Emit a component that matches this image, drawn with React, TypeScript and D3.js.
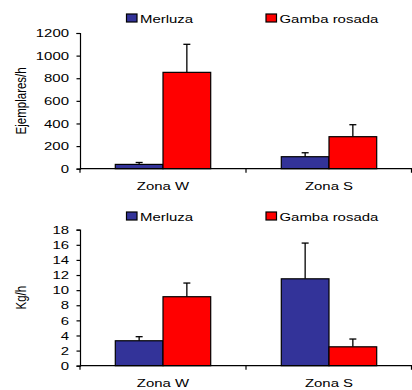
import React, { useEffect, useRef } from 'react';
import * as d3 from 'd3';

const zones = ['Zona W', 'Zona S'];
const species = ['Merluza', 'Gamba rosada'];
const colors = ['#333399', '#FF0000'];

// Ejemplares/h
const abundMerluza = [38, 106];
const abundGamba = [852, 283];
const abundErrMerluza = [55, 141];
const abundErrGamba = [1100, 389];
const abundTicks = [0, 200, 400, 600, 800, 1000, 1200];

// Kg/h
const biomMerluza = [3.3, 11.5];
const biomGamba = [9.13, 2.5];
const biomErrMerluza = [3.84, 16.23];
const biomErrGamba = [10.94, 3.53];
const biomTicks = [0, 2, 4, 6, 8, 10, 12, 14, 16, 18];

const FONT = 'Liberation Sans, Arial, sans-serif';
const SX = 1.3; // the original picture is stretched sideways

function drawPanel(svg, opts) {
  const { top, zeroY, maxY, label, ticks, values, errors } = opts;
  const g = svg.append('g');

  const x0 = d3.scaleBand().domain(zones).range([80, 412]).paddingInner(0).paddingOuter(0);
  const x1 = d3.scaleBand().domain(species).range([0, x0.bandwidth()]).paddingInner(0).paddingOuter(0.74);
  const y = d3.scaleLinear().domain([0, ticks[ticks.length - 1]]).range([zeroY, maxY]);

  // legend
  const legX = [126.5, 266];
  species.forEach((s, i) => {
    g.append('rect')
      .attr('x', legX[i]).attr('y', top + 14)
      .attr('width', 10.5).attr('height', 8)
      .attr('fill', colors[i]).attr('stroke', '#000').attr('stroke-width', 1.2);
    g.append('text')
      .attr('transform', `translate(${legX[i] + 13.5},${top + 22.5}) scale(${SX},1)`)
      .attr('font-family', FONT).attr('font-size', 11.5)
      .text(s);
  });

  // y axis
  const yAxis = g.append('g').attr('transform', 'translate(80,0)')
    .call(d3.axisLeft(y).tickValues(ticks).tickSize(3.5).tickFormat(d3.format('d')));
  yAxis.select('.domain').attr('stroke', '#000').attr('stroke-width', 1.2);
  yAxis.selectAll('.tick line').attr('stroke', '#000').attr('stroke-width', 1.2);
  yAxis.selectAll('text')
    .attr('x', -11 / SX)
    .attr('transform', `scale(${SX},1)`)
    .attr('font-family', FONT).attr('font-size', 11.5).attr('fill', '#000');

  g.append('text')
    .attr('transform', `translate(25.5,${(zeroY + maxY) / 2}) scale(${SX},1) rotate(-90)`)
    .attr('text-anchor', 'middle')
    .attr('font-family', FONT).attr('font-size', 11.5)
    .text(label);

  // bars
  zones.forEach((z, zi) => {
    species.forEach((s, si) => {
      const v = values[si][zi];
      const e = errors[si][zi];
      const bx = x0(z) + x1(s);
      const cx = bx + x1.bandwidth() / 2;
      g.append('line')
        .attr('x1', cx).attr('x2', cx)
        .attr('y1', y(v)).attr('y2', y(e))
        .attr('stroke', '#000').attr('stroke-width', 1.3);
      g.append('line')
        .attr('x1', cx - 3.5).attr('x2', cx + 3.5)
        .attr('y1', y(e)).attr('y2', y(e))
        .attr('stroke', '#000').attr('stroke-width', 1.3);
      g.append('rect')
        .attr('x', bx).attr('y', y(v))
        .attr('width', x1.bandwidth()).attr('height', y(0) - y(v))
        .attr('fill', colors[si]).attr('stroke', '#000').attr('stroke-width', 1.2);
    });
  });

  // x axis
  g.append('line')
    .attr('x1', 80).attr('x2', 412).attr('y1', zeroY).attr('y2', zeroY)
    .attr('stroke', '#000').attr('stroke-width', 1.3);
  const edges = [80, x0('Zona S'), 411.5];
  edges.forEach((ex) => {
    g.append('line')
      .attr('x1', ex).attr('x2', ex).attr('y1', zeroY).attr('y2', zeroY + 4)
      .attr('stroke', '#000').attr('stroke-width', 1.2);
  });
  zones.forEach((z) => {
    g.append('text')
      .attr('transform', `translate(${x0(z) + x0.bandwidth() / 2},${zeroY + 21.5}) scale(${SX},1)`)
      .attr('text-anchor', 'middle')
      .attr('font-family', FONT).attr('font-size', 11.5)
      .text(z);
  });
}

export default function App() {
  const ref = useRef(null);

  useEffect(() => {
    const svg = d3.select(ref.current);
    svg.selectAll('*').remove();
    drawPanel(svg, {
      top: 0, zeroY: 168.7, maxY: 33, label: 'Ejemplares/h', ticks: abundTicks,
      values: [abundMerluza, abundGamba], errors: [abundErrMerluza, abundErrGamba],
    });
    drawPanel(svg, {
      top: 198, zeroY: 365.7, maxY: 229.7, label: 'Kg/h', ticks: biomTicks,
      values: [biomMerluza, biomGamba], errors: [biomErrMerluza, biomErrGamba],
    });
  }, []);

  return (
    <svg ref={ref} width={412} height={390}
      style={{ position: 'absolute', left: 0, top: 0, background: '#fff' }} />
  );
}
